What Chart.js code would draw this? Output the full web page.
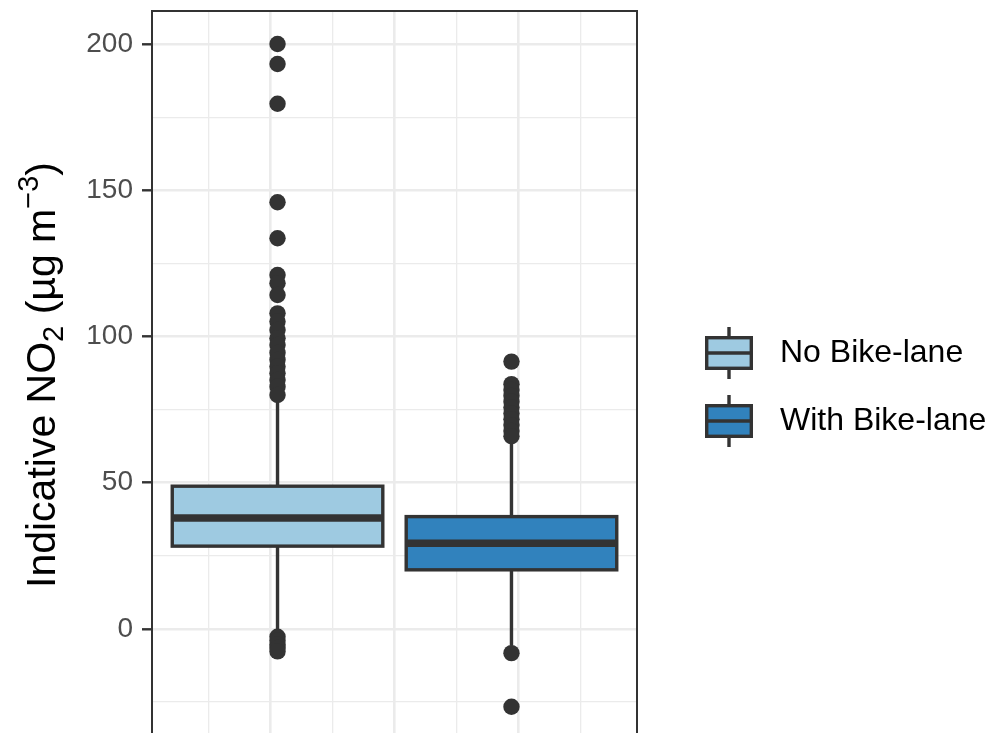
<!DOCTYPE html>
<html>
<head>
<meta charset="utf-8">
<script src="https://cdn.jsdelivr.net/npm/chart.js@4.4.0/dist/chart.umd.min.js"></script>
<style>
  html, body { margin: 0; padding: 0; background: #ffffff; }
  canvas { display: block; }
</style>
</head>
<body>
<canvas id="no2_box" width="988" height="733"></canvas>
<script>
// data
const groupNames = ['No Bike-lane', 'With Bike-lane'];
const q1Values = [28.3, 20.2];
const medianValues = [37.9, 29.3];
const q3Values = [48.8, 38.4];
const whiskerLow = [-2.2, -5.8];
const whiskerHigh = [79.0, 65.5];
const outliersNoLane = [200, 193.2, 179.6, 145.9, 133.6, 121.0, 118.2, 114.2, 107.9, 105.1, 102.2,
  99.4, 97.1, 94.4, 92.0, 89.7, 87.4, 85.1, 82.8, 80.0, -2.7, -4.0, -5.3, -6.5, -7.7];
const outliersWithLane = [91.4, 83.7, 81.7, 79.7, 77.7, 75.7, 73.7, 71.7, 69.7, 67.7, 65.9, -8.3, -26.6];
const yMajorTicks = [0, 50, 100, 150, 200];
const yMinorTicks = [-25, 25, 75, 125, 175];
const xMajorTicks = [-1, 0, 1];
const xMinorTicks = [-1.5, -0.5, 0.5, 1.5];

// styles
const fontFamily = "'Liberation Sans', Arial, Helvetica, sans-serif";
const fillColours = ['#9ecae1', '#3182bd'];
const inkColour = '#333333';
const gridColour = '#ebebeb';
const boxLineWidth = 3.4;
const medianLineWidth = 7.5;
const dodgeSlot = 1.887;
const boxFraction = 0.9;

Chart.defaults.font.family = fontFamily;

function groupCentre(i) {
  return (i - (groupNames.length - 1) / 2) * dodgeSlot;
}

function isMajor(list, c) {
  return c.tick && list.includes(c.tick.value);
}

// little boxplot key for the legend
function legendGlyph(fill) {
  const c = document.createElement('canvas');
  c.width = 77;
  c.height = 56;
  const g = c.getContext('2d');
  const cx = 49, cy = 28, hw = 22.3, hh = 15.3;
  g.strokeStyle = inkColour;
  g.lineWidth = boxLineWidth;
  g.beginPath();
  g.moveTo(cx, cy - 26); g.lineTo(cx, cy - hh);
  g.moveTo(cx, cy + hh); g.lineTo(cx, cy + 26);
  g.stroke();
  g.fillStyle = fill;
  g.fillRect(cx - hw, cy - hh, hw * 2, hh * 2);
  g.strokeRect(cx - hw, cy - hh, hw * 2, hh * 2);
  g.beginPath();
  g.moveTo(cx - hw, cy); g.lineTo(cx + hw, cy);
  g.stroke();
  return c;
}
const glyphs = fillColours.map(legendGlyph);

const boxplotPlugin = {
  id: 'boxplot',
  beforeDatasetsDraw(chart) {
    const { ctx, scales: { x, y } } = chart;
    ctx.save();
    ctx.strokeStyle = inkColour;
    groupNames.forEach((name, i) => {
      const half = dodgeSlot * boxFraction / 2;
      const cx = x.getPixelForValue(groupCentre(i));
      const left = x.getPixelForValue(groupCentre(i) - half);
      const right = x.getPixelForValue(groupCentre(i) + half);
      const top = y.getPixelForValue(q3Values[i]);
      const bottom = y.getPixelForValue(q1Values[i]);
      ctx.lineWidth = boxLineWidth;
      ctx.beginPath();
      ctx.moveTo(cx, top); ctx.lineTo(cx, y.getPixelForValue(whiskerHigh[i]));
      ctx.moveTo(cx, bottom); ctx.lineTo(cx, y.getPixelForValue(whiskerLow[i]));
      ctx.stroke();
      ctx.fillStyle = fillColours[i];
      ctx.fillRect(left, top, right - left, bottom - top);
      ctx.strokeRect(left, top, right - left, bottom - top);
      const m = y.getPixelForValue(medianValues[i]);
      ctx.lineWidth = medianLineWidth;
      ctx.beginPath();
      ctx.moveTo(left, m); ctx.lineTo(right, m);
      ctx.stroke();
    });
    ctx.restore();
  },
  afterDraw(chart) {
    const { ctx, chartArea: a } = chart;
    ctx.save();
    // panel border
    ctx.strokeStyle = inkColour;
    ctx.lineWidth = 2;
    ctx.strokeRect(a.left, a.top, a.right - a.left, a.bottom - a.top + 20);

    // y axis title with sub / superscript
    const parts = [
      { text: 'Indicative NO', size: 41, dy: 0 },
      { text: '2', size: 29, dy: 8 },
      { text: ' (µg m', size: 41, dy: 0 },
      { text: '−3', size: 29, dy: -17 },
      { text: ')', size: 41, dy: 0 }
    ];
    let total = 0;
    parts.forEach(p => {
      ctx.font = p.size + 'px ' + fontFamily;
      p.w = ctx.measureText(p.text).width;
      total += p.w;
    });
    ctx.translate(55, 375);
    ctx.rotate(-Math.PI / 2);
    ctx.fillStyle = '#000000';
    ctx.textBaseline = 'alphabetic';
    let px = -total / 2;
    parts.forEach(p => {
      ctx.font = p.size + 'px ' + fontFamily;
      ctx.fillText(p.text, px, p.dy);
      px += p.w;
    });
    ctx.restore();
  }
};

const data = {
  datasets: [
    {
      label: groupNames[0],
      data: outliersNoLane.map(v => ({ x: groupCentre(0), y: v })),
      backgroundColor: inkColour,
      borderWidth: 0,
      pointRadius: 8.2,
      pointHoverRadius: 8.2
    },
    {
      label: groupNames[1],
      data: outliersWithLane.map(v => ({ x: groupCentre(1), y: v })),
      backgroundColor: inkColour,
      borderWidth: 0,
      pointRadius: 8.2,
      pointHoverRadius: 8.2
    }
  ]
};

const config = {
  type: 'scatter',
  data: data,
  plugins: [boxplotPlugin],
  options: {
    responsive: false,
    animation: false,
    events: [],
    layout: { autoPadding: false, padding: { top: 11, right: 0, bottom: 0, left: 0 } },
    plugins: {
      tooltip: { enabled: false },
      legend: {
        position: 'right',
        align: 'center',
        maxWidth: 351,
        title: { display: true, text: '', font: { size: 10 }, padding: { top: 18, bottom: 0 } },
        labels: {
          usePointStyle: true,
          pointStyleWidth: 91,
          padding: 36,
          color: '#000000',
          font: { size: 32 },
          generateLabels: () => groupNames.map((name, i) => ({
            text: name,
            pointStyle: glyphs[i],
            datasetIndex: i,
            hidden: false,
            lineWidth: 0,
            fillStyle: fillColours[i],
            strokeStyle: inkColour,
            fontColor: '#000000'
          }))
        }
      }
    },
    scales: {
      x: {
        type: 'linear',
        min: -1.956,
        max: 1.956,
        afterBuildTicks: s => {
          s.ticks = [...xMinorTicks, ...xMajorTicks].sort((a, b) => a - b).map(v => ({ value: v }));
        },
        afterFit: s => { s.height = 0; s.paddingLeft = 0; s.paddingRight = 0; },
        ticks: { display: false },
        grid: {
          color: gridColour,
          lineWidth: c => isMajor(xMajorTicks, c) ? 2.6 : 1.3,
          drawTicks: false
        },
        border: { display: false }
      },
      y: {
        type: 'linear',
        min: -35.6,
        max: 211.3,
        afterBuildTicks: s => {
          s.ticks = [...yMinorTicks, ...yMajorTicks].sort((a, b) => a - b).map(v => ({ value: v }));
        },
        afterFit: s => { s.width = 152; s.paddingTop = 0; s.paddingBottom = 0; },
        ticks: {
          padding: 9,
          color: '#4d4d4d',
          font: { size: 28 },
          callback: v => yMajorTicks.includes(v) ? String(v) : ''
        },
        grid: {
          color: gridColour,
          lineWidth: c => isMajor(yMajorTicks, c) ? 2.6 : 1.3,
          tickLength: 10,
          tickWidth: 2.4,
          tickColor: c => isMajor(yMajorTicks, c) ? inkColour : 'rgba(0,0,0,0)'
        },
        border: { display: false }
      }
    }
  }
};

new Chart(document.getElementById('no2_box'), config);
</script>
</body>
</html>
